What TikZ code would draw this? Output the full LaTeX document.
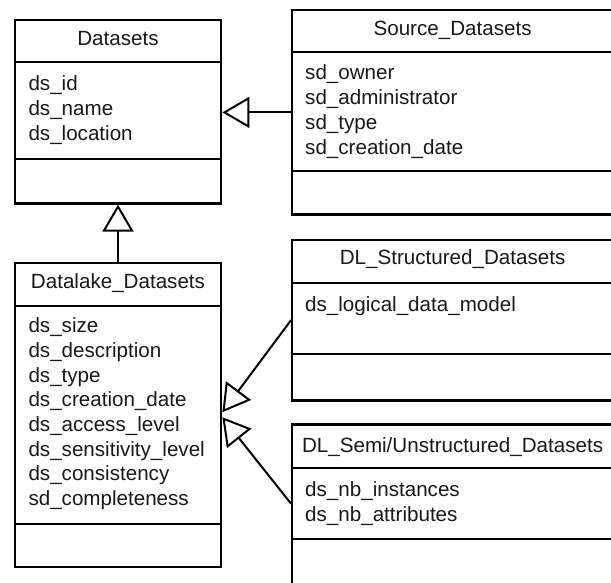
\documentclass[tikz,border=0pt]{standalone}
\usepackage{fontspec}
\setmainfont{Liberation Sans}
\usetikzlibrary{arrows.meta,calc}
\begin{document}
\begin{tikzpicture}[x=1pt,y=-1pt,
  classframe/.style={draw=black, line width=2.2pt, rectangle, inner sep=0pt, fill=white},
  divider/.style={line width=2pt},
  txt/.style={inner sep=0pt, font=\fontsize{20.6}{24.7}\selectfont, text=black!90},
  ctitle/.style={txt, anchor=base},
  cattr/.style={txt, anchor=base west},
  gen/.style={line width=2pt, -{Triangle[open, length=27pt, width=31pt]}}
]
\useasboundingbox (0,0) rectangle (611,583);
\fill[white] (0,0) rectangle (611,583);
\clip (0,0) rectangle (611,583);

% class frames
\node[classframe, minimum width=206.6pt, minimum height=183.3pt] (ds)  at (118,111.85) {};
\node[classframe, minimum width=320.8pt, minimum height=204.2pt] (sd)  at (452.6,112.4) {};
\node[classframe, minimum width=206.6pt, minimum height=303.9pt] (dl)  at (118,415.25) {};
\node[classframe, minimum width=320.8pt, minimum height=160.8pt] (dst) at (452.6,320.1) {};
\node[classframe, minimum width=320.8pt, minimum height=161.5pt] (dsu) at (452.6,505.25) {};

% compartment dividers
\draw[divider] (ds.west |- 0,62.5)   -- (ds.east |- 0,62.5);
\draw[divider] (ds.west |- 0,159)    -- (ds.east |- 0,159);
\draw[divider] (sd.west |- 0,52.5)   -- (sd.east |- 0,52.5);
\draw[divider] (sd.west |- 0,170.8)  -- (sd.east |- 0,170.8);
\draw[divider] (dl.west |- 0,306)    -- (dl.east |- 0,306);
\draw[divider] (dl.west |- 0,524.3)  -- (dl.east |- 0,524.3);
\draw[divider] (dst.west |- 0,282.5) -- (dst.east |- 0,282.5);
\draw[divider] (dst.west |- 0,354.3) -- (dst.east |- 0,354.3);
\draw[divider] (dsu.west |- 0,467.7) -- (dsu.east |- 0,467.7);
\draw[divider] (dsu.west |- 0,539.2) -- (dsu.east |- 0,539.2);

% class names
\node[ctitle] (ds-t)  at (118,45.7)    {Datasets};
\node[ctitle] (sd-t)  at (452.6,36)    {Source\_Datasets};
\node[ctitle] (dl-t)  at (118,288.3)   {Datalake\_Datasets};
\node[ctitle] (dst-t) at (452.6,265)   {DL\_Structured\_Datasets};
\node[ctitle] (dsu-t) at (452.6,452.3) {DL\_Semi/Unstructured\_Datasets};

% attributes
\foreach \t [count=\i from 0] in {ds\_id, ds\_name, ds\_location}
  \node[cattr] (ds-a\i) at (28.3,{90.7+24.7*\i}) {\t};
\foreach \t [count=\i from 0] in {sd\_owner, sd\_administrator, sd\_type, sd\_creation\_date}
  \node[cattr] (sd-a\i) at (305,{80+24.7*\i}) {\t};
\foreach \t [count=\i from 0] in {ds\_size, ds\_description, ds\_type, ds\_creation\_date,
    ds\_access\_level, ds\_sensitivity\_level, ds\_consistency, sd\_completeness}
  \node[cattr] (dl-a\i) at (28.3,{332.7+24.7*\i}) {\t};
\node[cattr] (dst-a0) at (305,311.7) {ds\_logical\_data\_model};
\foreach \t [count=\i from 0] in {ds\_nb\_instances, ds\_nb\_attributes}
  \node[cattr] (dsu-a\i) at (305,{496.7+24.7*\i}) {\t};

% generalisations
\draw[gen] (sd.west) -- (sd.west -| ds.east);
\draw[gen] (dl.north) -- (ds.south);
\draw[gen] (dst.west) -- ([yshift=3pt]dl.east);
\draw[gen] ([yshift=1.5pt]dsu.west) -- ([yshift=-2pt]dl.east);
\end{tikzpicture}
\end{document}
